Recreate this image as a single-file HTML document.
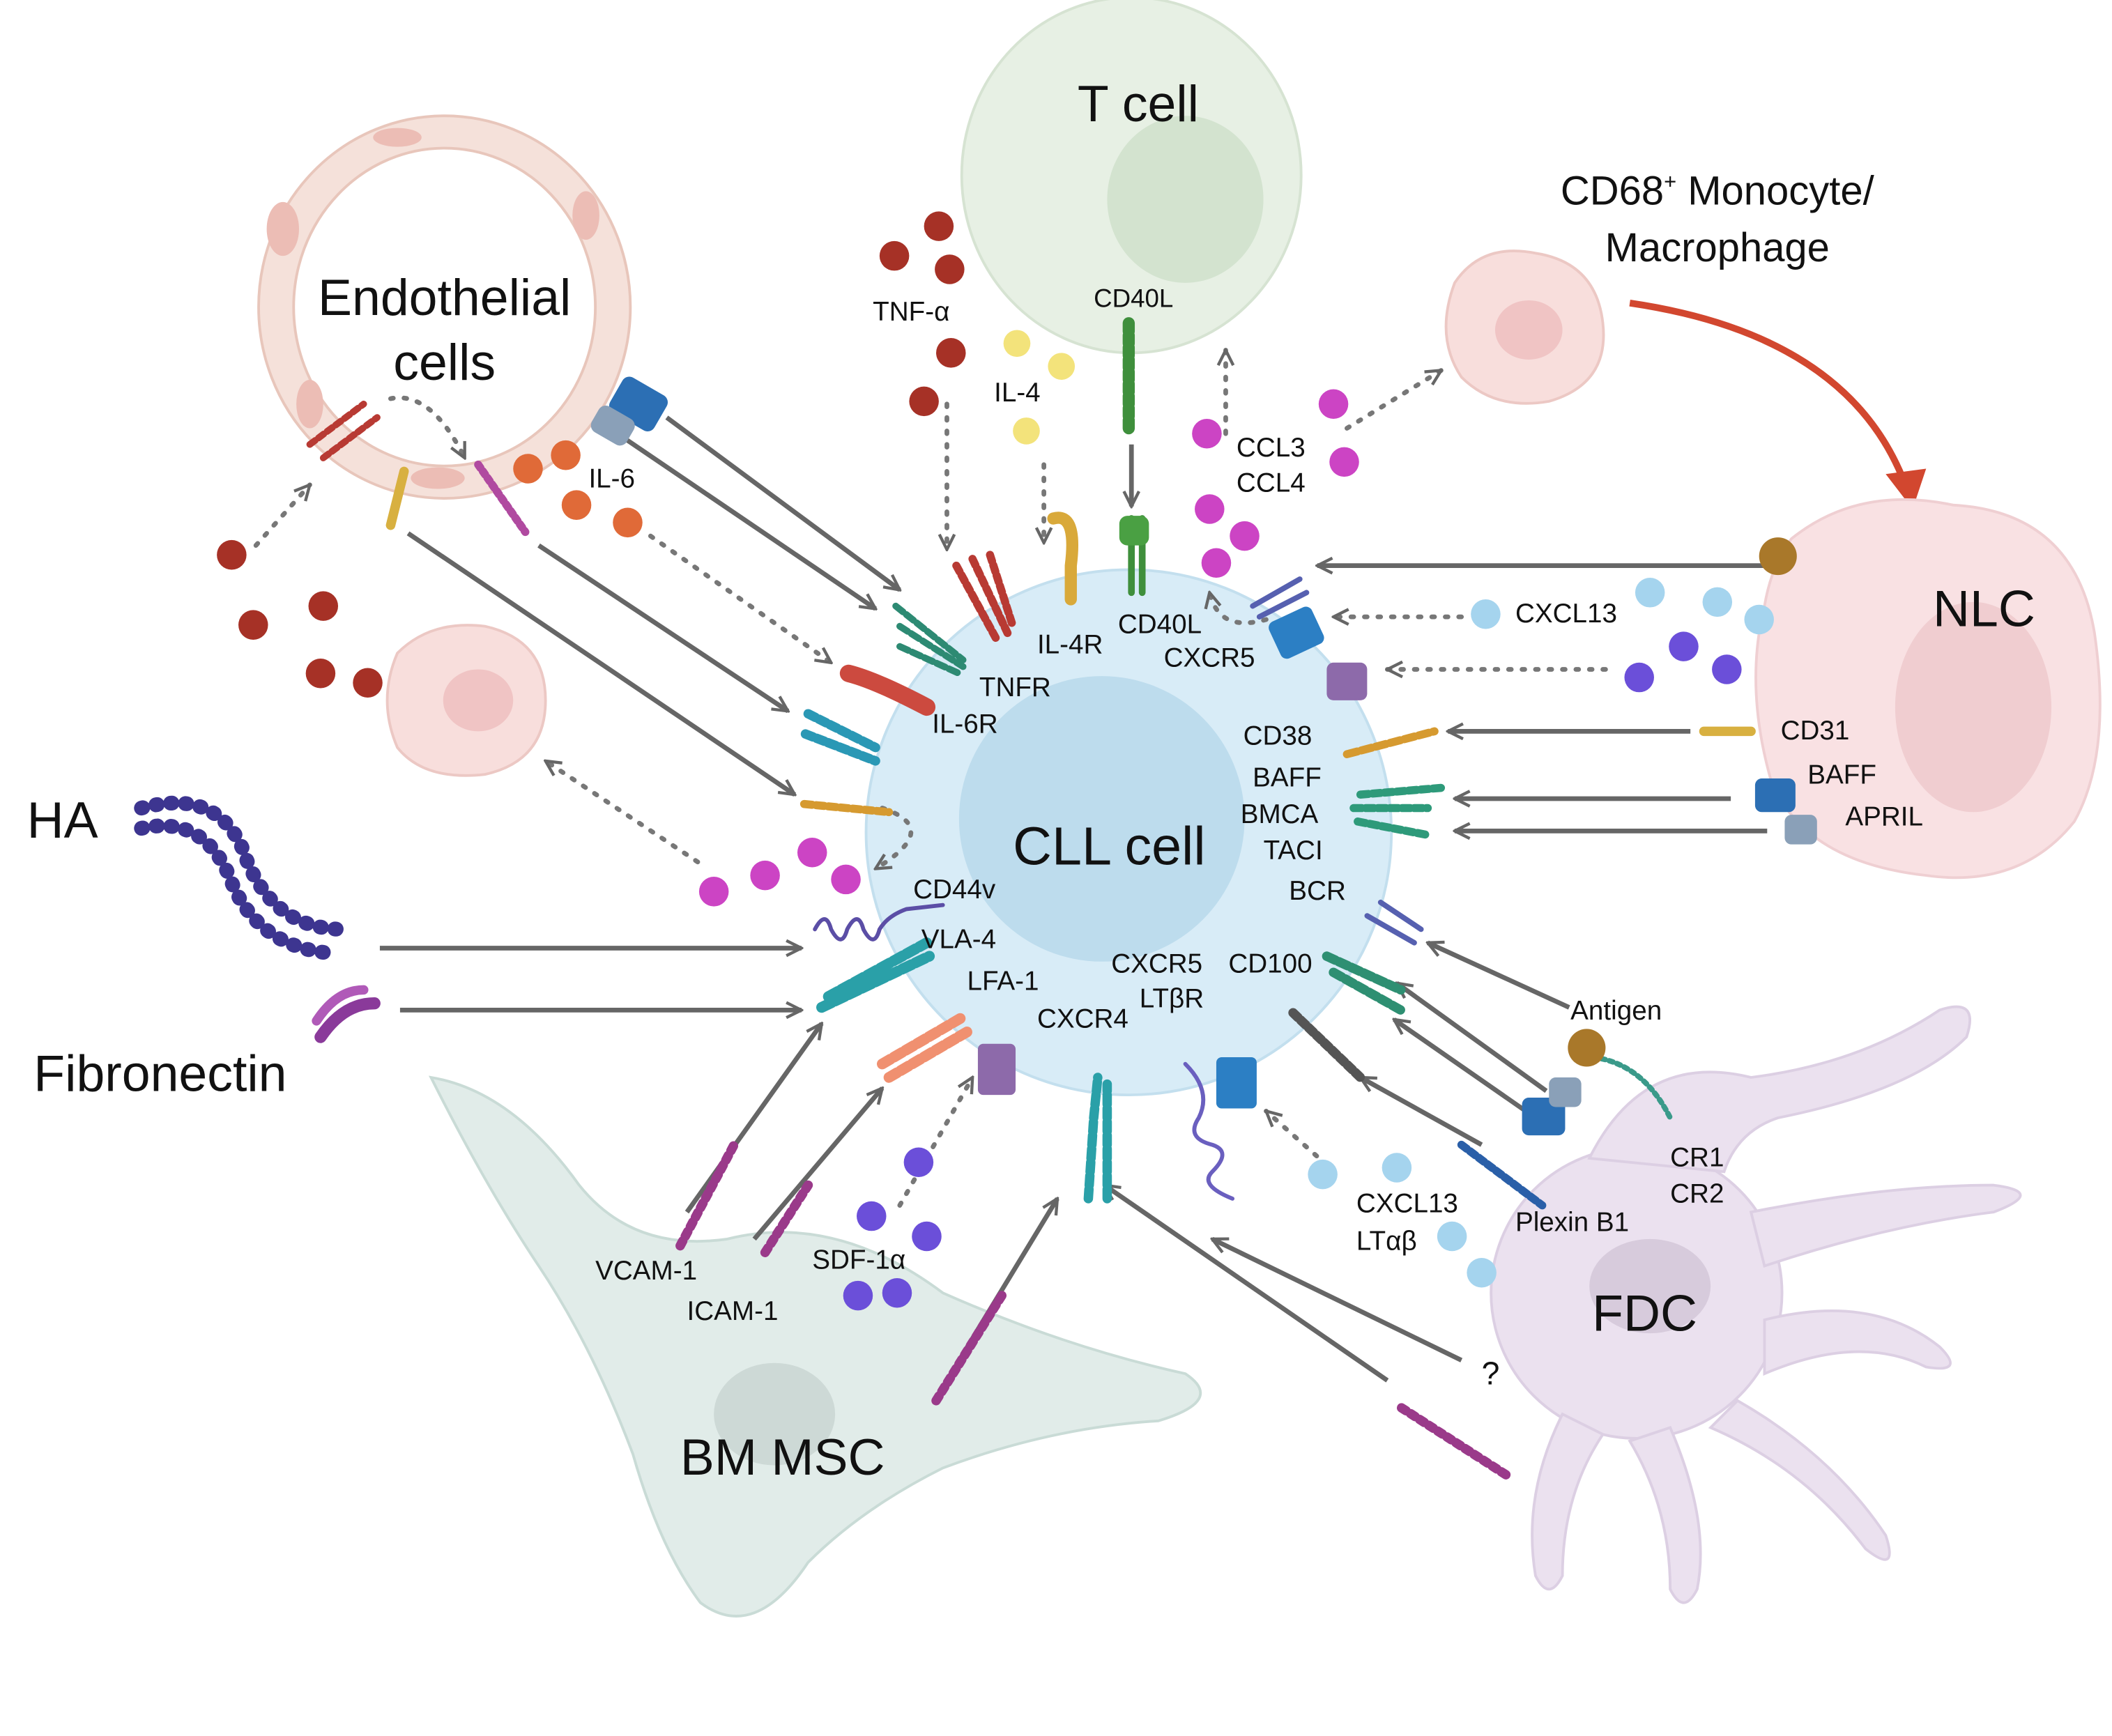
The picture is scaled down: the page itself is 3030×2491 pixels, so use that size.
<!DOCTYPE html>
<html><head><meta charset="utf-8"><style>
html,body{margin:0;padding:0;background:#fff;}
svg{display:block;}
text{font-family:"Liberation Sans",Arial,sans-serif;fill:#111;}
</style></head><body>
<svg width="3030" height="2491" viewBox="0 0 1568 1289" preserveAspectRatio="none" xmlns="http://www.w3.org/2000/svg">
<defs>
<marker id="a" markerWidth="8" markerHeight="8" refX="6" refY="4" orient="auto" markerUnits="userSpaceOnUse"><path d="M0,0 L8,4 L0,8 Z" fill="none"/></marker>
<marker id="ah" viewBox="0 0 10 10" refX="9" refY="5" markerWidth="14" markerHeight="14" orient="auto" markerUnits="userSpaceOnUse"><path d="M1,1 L9,5 L1,9" fill="none" stroke="#666" stroke-width="1.6"/></marker>
</defs>
<!-- T cell -->
<ellipse cx="840" cy="130" rx="126" ry="132" fill="#e7f0e4" stroke="#d6e3d2" stroke-width="2"/>
<ellipse cx="880" cy="148" rx="58" ry="62" fill="#d3e3cf"/>
<text x="800" y="90" font-size="38">T cell</text>
<text x="812" y="228" font-size="19">CD40L</text>
<!-- Endothelial ring -->
<ellipse cx="330" cy="228" rx="138" ry="142" fill="#f5e1da" stroke="#e8c6bb" stroke-width="2"/>
<ellipse cx="330" cy="228" rx="112" ry="118" fill="#fff" stroke="#e8c6bb" stroke-width="2"/>
<ellipse cx="210" cy="170" rx="12" ry="20" fill="#ecbdb5"/>
<ellipse cx="435" cy="160" rx="10" ry="18" fill="#ecbdb5"/>
<ellipse cx="230" cy="300" rx="10" ry="18" fill="#ecbdb5"/>
<ellipse cx="325" cy="355" rx="20" ry="8" fill="#ecbdb5"/>
<ellipse cx="295" cy="102" rx="18" ry="7" fill="#ecbdb5"/>
<text x="330" y="234" font-size="38" text-anchor="middle">Endothelial</text>
<text x="330" y="282" font-size="38" text-anchor="middle">cells</text>
<!-- macrophages -->
<path d="M1080,210 Q1100,180 1140,188 Q1185,195 1190,240 Q1195,285 1150,298 Q1110,305 1085,280 Q1065,250 1080,210Z" fill="#f8dedc" stroke="#ecc8c4" stroke-width="2"/>
<ellipse cx="1135" cy="245" rx="25" ry="22" fill="#f0c4c4"/>
<path d="M295,485 Q320,460 360,465 Q405,475 405,520 Q405,565 360,575 Q315,580 295,555 Q280,520 295,485Z" fill="#f8dedc" stroke="#ecc8c4" stroke-width="2"/>
<ellipse cx="355" cy="520" rx="26" ry="23" fill="#f0c4c4"/>
<text x="1275" y="152" font-size="30" text-anchor="middle">CD68<tspan font-size="16" dy="-12">+</tspan><tspan dy="12"> Monocyte/</tspan></text>
<text x="1275" y="194" font-size="30" text-anchor="middle">Macrophage</text>
<path d="M1210,225 Q1380,250 1418,370" fill="none" stroke="#d2472f" stroke-width="5"/>
<path d="M1400,352 L1420,378 L1430,348" fill="#d2472f"/>
<!-- NLC -->
<path d="M1330,400 Q1380,360 1450,375 Q1540,380 1555,470 Q1568,560 1540,610 Q1500,660 1430,650 Q1340,640 1315,580 Q1295,510 1310,450 Q1315,420 1330,400Z" fill="#f9e1e3" stroke="#efcfd2" stroke-width="2"/>
<ellipse cx="1465" cy="525" rx="58" ry="78" fill="#f0cdd0"/>
<text x="1435" y="465" font-size="38">NLC</text>
<!-- BM MSC -->
<path d="M320,800 Q380,810 430,880 Q470,930 540,920 Q620,900 700,960 Q790,1000 880,1020 Q910,1040 860,1055 Q780,1060 700,1090 Q640,1120 600,1160 Q560,1220 520,1190 Q490,1150 470,1080 Q440,1000 400,940 Q360,880 320,800Z" fill="#e1ece9" stroke="#c9dbd6" stroke-width="2"/>
<ellipse cx="575" cy="1050" rx="45" ry="38" fill="#cdd9d6"/>
<text x="505" y="1095" font-size="38">BM MSC</text>
<!-- FDC -->
<g fill="#ebe1ef" stroke="#dccfe3" stroke-width="2">
<circle cx="1215" cy="960" r="108"/>
<path d="M1180,860 Q1220,780 1300,800 Q1380,790 1440,750 Q1470,740 1460,770 Q1420,810 1320,830 Q1290,840 1280,870Z"/>
<path d="M1300,900 Q1400,880 1480,880 Q1520,885 1480,900 Q1400,910 1310,940Z"/>
<path d="M1310,980 Q1390,960 1440,1000 Q1460,1020 1430,1015 Q1380,990 1310,1020Z"/>
<path d="M1290,1040 Q1360,1080 1400,1140 Q1410,1170 1385,1150 Q1340,1090 1270,1060Z"/>
<path d="M1240,1060 Q1270,1130 1260,1180 Q1250,1200 1240,1180 Q1240,1120 1210,1070Z"/>
<path d="M1160,1050 Q1130,1110 1140,1170 Q1150,1190 1160,1170 Q1160,1110 1190,1065Z"/>
</g>
<ellipse cx="1225" cy="955" rx="45" ry="35" fill="#d7cbdc"/>
<text x="1182" y="988" font-size="38">FDC</text>
<!-- CLL cell -->
<circle cx="838" cy="618" r="195" fill="#d8ecf7" stroke="#c3dfee" stroke-width="2"/>
<circle cx="818" cy="608" r="106" fill="#bddced"/>
<text x="752" y="642" font-size="40">CLL cell</text>
<!-- HA -->
<path d="M105,600 Q160,585 180,630 Q200,690 255,690" fill="none" stroke="#3d3590" stroke-width="11" stroke-dasharray="1 10" stroke-linecap="round"/>
<path d="M105,615 Q150,605 170,650 Q190,705 250,708" fill="none" stroke="#3d3590" stroke-width="11" stroke-dasharray="1 10" stroke-linecap="round"/>
<text x="20" y="622" font-size="38">HA</text>
<path d="M238,770 Q255,745 278,745" stroke="#8a3a9a" stroke-width="9" fill="none" stroke-linecap="round"/>
<path d="M235,758 Q250,735 270,735" stroke="#b05ab8" stroke-width="7" fill="none" stroke-linecap="round"/>
<text x="25" y="810" font-size="38">Fibronectin</text>
<!-- solid arrows -->
<g stroke="#666" stroke-width="3.5" fill="none" marker-end="url(#ah)">
<line x1="495" y1="310" x2="668" y2="438"/>
<line x1="460" y1="323" x2="650" y2="452"/>
<line x1="400" y1="405" x2="585" y2="528"/>
<line x1="303" y1="396" x2="590" y2="590"/>
<line x1="282" y1="704" x2="595" y2="704"/>
<line x1="297" y1="750" x2="595" y2="750"/>
<line x1="840" y1="330" x2="840" y2="376"/>
<line x1="1310" y1="420" x2="978" y2="420"/>
<line x1="1255" y1="543" x2="1075" y2="543"/>
<line x1="1285" y1="593" x2="1080" y2="593"/>
<line x1="1312" y1="617" x2="1080" y2="617"/>
<line x1="1165" y1="748" x2="1060" y2="700"/>
<line x1="1148" y1="810" x2="1037" y2="730"/>
<line x1="1140" y1="830" x2="1035" y2="757"/>
<line x1="1100" y1="850" x2="1010" y2="800"/>
<line x1="1085" y1="1010" x2="900" y2="920"/>
<line x1="1030" y1="1025" x2="820" y2="880"/>
<line x1="700" y1="1030" x2="785" y2="890"/>
<line x1="510" y1="900" x2="610" y2="760"/>
<line x1="560" y1="920" x2="655" y2="808"/>
</g>
<!-- dotted arrows -->
<g stroke="#777" stroke-width="3.5" fill="none" stroke-dasharray="2 8" stroke-linecap="round" marker-end="url(#ah)">
<line x1="190" y1="405" x2="230" y2="360"/>
<path d="M290,296 Q320,290 345,340"/>
<line x1="483" y1="398" x2="617" y2="492"/>
<line x1="518" y1="640" x2="405" y2="565"/>
<path d="M655,600 Q700,615 650,645"/>
<line x1="703" y1="300" x2="703" y2="408"/>
<line x1="775" y1="345" x2="775" y2="403"/>
<line x1="910" y1="322" x2="910" y2="260"/>
<line x1="1000" y1="318" x2="1070" y2="275"/>
<path d="M940,460 Q905,470 898,440"/>
<line x1="1085" y1="458" x2="990" y2="458"/>
<line x1="1192" y1="497" x2="1030" y2="497"/>
<line x1="668" y1="895" x2="722" y2="800"/>
<line x1="985" y1="865" x2="940" y2="825"/>
</g>
<!-- ligands -->
<g fill="#a63126">
<circle cx="697" cy="168" r="11"/><circle cx="664" cy="190" r="11"/><circle cx="705" cy="200" r="11"/><circle cx="706" cy="262" r="11"/><circle cx="686" cy="298" r="11"/>
<circle cx="172" cy="412" r="11"/><circle cx="188" cy="464" r="11"/><circle cx="240" cy="450" r="11"/><circle cx="238" cy="500" r="11"/><circle cx="273" cy="507" r="11"/>
</g>
<g fill="#f3e37b"><circle cx="755" cy="255" r="10"/><circle cx="788" cy="272" r="10"/><circle cx="762" cy="320" r="10"/></g>
<g fill="#e06a38"><circle cx="392" cy="348" r="11"/><circle cx="420" cy="338" r="11"/><circle cx="428" cy="375" r="11"/><circle cx="466" cy="388" r="11"/></g>
<g fill="#cc44c4"><circle cx="896" cy="322" r="11"/><circle cx="990" cy="300" r="11"/><circle cx="998" cy="343" r="11"/><circle cx="898" cy="378" r="11"/><circle cx="924" cy="398" r="11"/><circle cx="903" cy="418" r="11"/>
<circle cx="530" cy="662" r="11"/><circle cx="568" cy="650" r="11"/><circle cx="603" cy="633" r="11"/><circle cx="628" cy="653" r="11"/></g>
<g fill="#a5d4ee"><circle cx="1103" cy="456" r="11"/><circle cx="1225" cy="440" r="11"/><circle cx="1275" cy="447" r="11"/><circle cx="1306" cy="460" r="11"/>
<circle cx="982" cy="872" r="11"/><circle cx="1037" cy="867" r="11"/><circle cx="1078" cy="918" r="11"/><circle cx="1100" cy="945" r="11"/></g>
<g fill="#6b4fd9"><circle cx="1217" cy="503" r="11"/><circle cx="1250" cy="480" r="11"/><circle cx="1282" cy="497" r="11"/>
<circle cx="682" cy="863" r="11"/><circle cx="647" cy="903" r="11"/><circle cx="688" cy="918" r="11"/><circle cx="637" cy="962" r="11"/><circle cx="666" cy="960" r="11"/></g>
<!-- receptors (simplified) -->
<g stroke-linecap="round" fill="none">
<path d="M838,240 L838,320" stroke="#3f8f3c" stroke-width="9" stroke-dasharray="6 3"/>
<path d="M840,385 L840,440 M848,385 L848,440" stroke="#3f8f3c" stroke-width="5"/>
<rect x="831" y="383" width="22" height="22" rx="6" fill="#4aa043" stroke="none"/>
<path d="M782,385 Q800,380 795,420 L795,445" stroke="#d9a93a" stroke-width="9"/>
<path d="M710,420 L740,475 M722,415 L748,470 M735,412 L752,465" stroke="#b83a33" stroke-width="6" stroke-dasharray="5 3"/>
<path d="M665,450 L715,490 M668,465 L715,495 M668,480 L712,500" stroke="#2d8a73" stroke-width="5" stroke-dasharray="7 3"/>
<path d="M630,500 Q650,505 688,525" stroke="#cc4a3f" stroke-width="13"/>
<path d="M600,530 L650,555 M598,545 L650,565" stroke="#2a98b5" stroke-width="7" stroke-dasharray="6 3"/>
<path d="M597,597 L660,603" stroke="#d69a30" stroke-width="6" stroke-dasharray="6 3"/>
<path d="M605,690 q8,-15 12,0 q8,15 12,0 q8,-15 12,0 q8,15 12,0 q6,-10 20,-15 L700,672" stroke="#5b4ea6" stroke-width="3"/>
<path d="M610,748 L690,710 M615,740 L688,700" stroke="#2aa0a8" stroke-width="8" stroke-dasharray="8 3"/>
<path d="M655,790 L715,755 M660,800 L720,765" stroke="#f09070" stroke-width="8" stroke-dasharray="7 3"/>
<rect x="726" y="775" width="28" height="38" rx="4" fill="#8d6aaa" stroke="none"/>
<path d="M808,890 L812,830 L815,800 M822,890 L822,805" stroke="#2aa0a8" stroke-width="7" stroke-dasharray="7 3"/>
<path d="M880,790 Q900,810 890,830 q-10,15 10,20 q15,5 0,20 q-10,10 15,20" stroke="#6a5fbf" stroke-width="3"/>
<rect x="903" y="785" width="30" height="38" rx="4" fill="#2c7fc4" stroke="none"/>
<path d="M960,752 L1010,800" stroke="#555" stroke-width="7" stroke-dasharray="5 3"/>
<path d="M1085,850 L1145,895" stroke="#2a5fa8" stroke-width="6" stroke-dasharray="5 3"/>
<path d="M985,710 L1040,735 M990,722 L1040,750" stroke="#2e8f72" stroke-width="7" stroke-dasharray="7 3"/>
<path d="M1015,680 L1050,700 M1025,670 L1055,690" stroke="#5660b0" stroke-width="4"/>
<path d="M1005,600 L1060,600 M1008,610 L1060,620 M1010,590 L1070,585" stroke="#2e9a7a" stroke-width="6" stroke-dasharray="6 3"/>
<path d="M1000,560 L1065,543" stroke="#d69a30" stroke-width="6" stroke-dasharray="8 3"/>
<path d="M1265,543 L1300,543" stroke="#d8b040" stroke-width="7"/>
<rect x="945" y="455" width="35" height="30" rx="5" fill="#2c7fc4" stroke="none" transform="rotate(-25 962 470)"/>
<rect x="985" y="492" width="30" height="28" rx="5" fill="#8d6aaa" stroke="none"/>
<path d="M930,450 L965,430 M935,458 L970,440" stroke="#5660b0" stroke-width="4"/>
<path d="M290,390 L300,350" stroke="#d8b040" stroke-width="7"/>
<path d="M230,330 L270,300 M240,340 L280,310" stroke="#b83a33" stroke-width="5" stroke-dasharray="5 3"/>
<path d="M355,345 L390,395" stroke="#b04aa0" stroke-width="6" stroke-dasharray="3 3"/>
<rect x="455" y="285" width="38" height="30" rx="6" fill="#2c6fb4" stroke="none" transform="rotate(30 474 300)"/>
<rect x="440" y="305" width="30" height="22" rx="6" fill="#8aa0b8" stroke="none" transform="rotate(30 455 316)"/>
<rect x="1303" y="578" width="30" height="25" rx="5" fill="#2c6fb4" stroke="none"/>
<rect x="1325" y="605" width="24" height="22" rx="5" fill="#8aa0b8" stroke="none"/>
<rect x="1130" y="815" width="32" height="28" rx="5" fill="#2c6fb4" stroke="none"/>
<rect x="1150" y="800" width="24" height="22" rx="5" fill="#8aa0b8" stroke="none"/>
<path d="M1183,785 Q1220,790 1240,830" stroke="#3a9a8a" stroke-width="4" stroke-dasharray="3 3"/>
<path d="M505,925 L545,850" stroke="#9a3a8a" stroke-width="7" stroke-dasharray="4 4"/>
<path d="M568,930 L600,880" stroke="#9a3a8a" stroke-width="7" stroke-dasharray="4 4"/>
<path d="M695,1040 L745,960" stroke="#9a3a8a" stroke-width="7" stroke-dasharray="4 4"/>
<path d="M1118,1095 L1040,1045" stroke="#9a3a8a" stroke-width="7" stroke-dasharray="4 4"/>
</g>
<circle cx="1320" cy="413" r="14" fill="#a9782a"/>
<circle cx="1178" cy="778" r="14" fill="#a9782a"/>
<!-- labels -->
<g font-size="20">
<text x="648" y="238">TNF-α</text>
<text x="738" y="298">IL-4</text>
<text x="437" y="362">IL-6</text>
<text x="918" y="339">CCL3</text>
<text x="918" y="365">CCL4</text>
<text x="770" y="485">IL-4R</text>
<text x="830" y="470">CD40L</text>
<text x="727" y="517">TNFR</text>
<text x="864" y="495">CXCR5</text>
<text x="692" y="544">IL-6R</text>
<text x="1125" y="462">CXCL13</text>
<text x="923" y="553">CD38</text>
<text x="1322" y="549">CD31</text>
<text x="930" y="584">BAFF</text>
<text x="921" y="611">BMCA</text>
<text x="938" y="638">TACI</text>
<text x="1342" y="582">BAFF</text>
<text x="1370" y="613">APRIL</text>
<text x="957" y="668">BCR</text>
<text x="678" y="667">CD44v</text>
<text x="684" y="704">VLA-4</text>
<text x="718" y="735">LFA-1</text>
<text x="825" y="722">CXCR5</text>
<text x="912" y="722">CD100</text>
<text x="846" y="748">LTβR</text>
<text x="770" y="763">CXCR4</text>
<text x="1166" y="757">Antigen</text>
<text x="1240" y="866">CR1</text>
<text x="1240" y="893">CR2</text>
<text x="1007" y="900">CXCL13</text>
<text x="1007" y="928">LTαβ</text>
<text x="1125" y="914">Plexin B1</text>
<text x="603" y="942">SDF-1α</text>
<text x="442" y="950">VCAM-1</text>
<text x="510" y="980">ICAM-1</text>
<text x="1100" y="1028" font-size="24">?</text>
</g>
</svg>
</body></html>
